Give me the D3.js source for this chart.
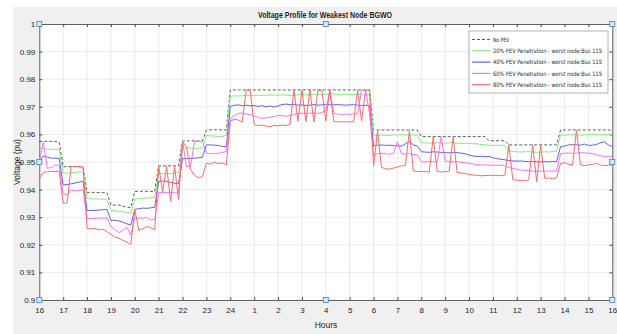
<!DOCTYPE html>
<html>
<head>
<meta charset="utf-8">
<script src="https://cdn.jsdelivr.net/npm/d3@7"></script>
<style>
  body { margin: 0; background: #fff; }
  text { font-family: "Liberation Sans", Arial, sans-serif; fill: #262626; }
</style>
</head>
<body>
<svg id="chart" width="617" height="334"></svg>
<script>
// hour tick labels (16:00 .. 16:00 next day)
var xTickLabels = ["16","17","18","19","20","21","22","23","24","1","2","3","4","5",
                   "6","7","8","9","10","11","12","13","14","15","16"];
var yTicks = [0.9, 0.91, 0.92, 0.93, 0.94, 0.95, 0.96, 0.97, 0.98, 0.99, 1];
var yTickLabels = ["0.9","0.91","0.92","0.93","0.94","0.95","0.96","0.97","0.98","0.99","1"];

var seriesNames = ["No PEV",
                   "20% PEV Penetration - worst node:Bus 115",
                   "40% PEV Penetration - worst node:Bus 115",
                   "60% PEV Penetration - worst node:Bus 115",
                   "80% PEV Penetration - worst node:Bus 115"];

// voltage in pu, one value every 10 minutes (6 per hour row)
var noPev = [
  0.9575,0.9575,0.9575,0.9575,0.9574,0.9572,
  0.9483,0.9483,0.9483,0.9483,0.9483,0.9482,
  0.9390,0.9390,0.9390,0.9389,0.9389,0.9388,
  0.9344,0.9344,0.9344,0.9340,0.9336,0.9335,
  0.9393,0.9394,0.9394,0.9394,0.9393,0.9393,
  0.9486,0.9486,0.9486,0.9486,0.9486,0.9486,
  0.9576,0.9576,0.9577,0.9577,0.9576,0.9576,
  0.9616,0.9616,0.9617,0.9617,0.9616,0.9616,
  0.9761,0.9761,0.9761,0.9761,0.9761,0.9761,
  0.9761,0.9761,0.9762,0.9761,0.9761,0.9761,
  0.9761,0.9761,0.9761,0.9761,0.9761,0.9761,
  0.9761,0.9762,0.9761,0.9761,0.9761,0.9761,
  0.9761,0.9761,0.9761,0.9761,0.9761,0.9761,
  0.9761,0.9761,0.9761,0.9761,0.9761,0.9761,
  0.9616,0.9616,0.9616,0.9616,0.9616,0.9616,
  0.9616,0.9616,0.9616,0.9616,0.9616,0.9616,
  0.9592,0.9592,0.9592,0.9592,0.9592,0.9592,
  0.9592,0.9592,0.9592,0.9592,0.9592,0.9592,
  0.9592,0.9592,0.9592,0.9592,0.9592,0.9577,
  0.9577,0.9577,0.9577,0.9577,0.9562,0.9562,
  0.9562,0.9562,0.9562,0.9562,0.9562,0.9562,
  0.9562,0.9562,0.9562,0.9562,0.9562,0.9616,
  0.9616,0.9616,0.9616,0.9616,0.9616,0.9616,
  0.9616,0.9616,0.9616,0.9616,0.9616,0.9616,
  0.9616
];

var pen20 = [
  0.9550,0.9549,0.9546,0.9546,0.9546,0.9545,
  0.9459,0.9460,0.9461,0.9462,0.9464,0.9465,
  0.9368,0.9366,0.9366,0.9366,0.9365,0.9364,
  0.9324,0.9323,0.9322,0.9320,0.9317,0.9315,
  0.9366,0.9367,0.9368,0.9369,0.9370,0.9372,
  0.9459,0.9458,0.9457,0.9458,0.9460,0.9462,
  0.9550,0.9551,0.9551,0.9550,0.9550,0.9550,
  0.9596,0.9595,0.9594,0.9592,0.9593,0.9596,
  0.9738,0.9740,0.9739,0.9740,0.9741,0.9740,
  0.9741,0.9742,0.9741,0.9742,0.9743,0.9742,
  0.9742,0.9743,0.9742,0.9741,0.9742,0.9743,
  0.9744,0.9743,0.9744,0.9745,0.9744,0.9744,
  0.9745,0.9747,0.9746,0.9744,0.9745,0.9746,
  0.9745,0.9744,0.9745,0.9744,0.9743,0.9742,
  0.9598,0.9596,0.9598,0.9597,0.9596,0.9598,
  0.9598,0.9599,0.9598,0.9597,0.9598,0.9597,
  0.9570,0.9569,0.9568,0.9569,0.9570,0.9569,
  0.9568,0.9569,0.9570,0.9568,0.9567,0.9568,
  0.9567,0.9566,0.9566,0.9563,0.9562,0.9561,
  0.9560,0.9560,0.9561,0.9559,0.9540,0.9538,
  0.9537,0.9536,0.9537,0.9538,0.9536,0.9535,
  0.9536,0.9537,0.9536,0.9538,0.9538,0.9598,
  0.9597,0.9598,0.9600,0.9599,0.9597,0.9598,
  0.9600,0.9601,0.9599,0.9598,0.9599,0.9600,
  0.9599
];

var pen40 = [
  0.9500,0.9522,0.9518,0.9514,0.9514,0.9513,
  0.9417,0.9418,0.9421,0.9424,0.9427,0.9430,
  0.9325,0.9324,0.9325,0.9326,0.9327,0.9328,
  0.9288,0.9289,0.9286,0.9282,0.9276,0.9272,
  0.9328,0.9331,0.9333,0.9332,0.9334,0.9336,
  0.9429,0.9431,0.9430,0.9426,0.9423,0.9422,
  0.9512,0.9513,0.9513,0.9514,0.9515,0.9517,
  0.9562,0.9562,0.9561,0.9560,0.9557,0.9555,
  0.9702,0.9705,0.9707,0.9704,0.9706,0.9703,
  0.9705,0.9701,0.9704,0.9700,0.9703,0.9699,
  0.9703,0.9708,0.9710,0.9707,0.9709,0.9706,
  0.9707,0.9705,0.9706,0.9708,0.9706,0.9707,
  0.9709,0.9708,0.9707,0.9708,0.9707,0.9706,
  0.9707,0.9708,0.9706,0.9705,0.9706,0.9704,
  0.9558,0.9561,0.9562,0.9560,0.9561,0.9559,
  0.9558,0.9557,0.9566,0.9573,0.9562,0.9558,
  0.9537,0.9536,0.9535,0.9537,0.9536,0.9535,
  0.9534,0.9533,0.9535,0.9534,0.9532,0.9530,
  0.9525,0.9522,0.9520,0.9521,0.9519,0.9520,
  0.9516,0.9512,0.9510,0.9508,0.9505,0.9504,
  0.9503,0.9504,0.9502,0.9501,0.9502,0.9501,
  0.9500,0.9501,0.9500,0.9502,0.9501,0.9556,
  0.9558,0.9562,0.9563,0.9562,0.9561,0.9565,
  0.9560,0.9561,0.9563,0.9570,0.9573,0.9562,
  0.9556
];

var pen60 = [
  0.9501,0.9572,0.9477,0.9480,0.9489,0.9487,
  0.9385,0.9380,0.9398,0.9395,0.9397,0.9399,
  0.9296,0.9294,0.9296,0.9297,0.9296,0.9298,
  0.9266,0.9255,0.9244,0.9252,0.9262,0.9237,
  0.9296,0.9298,0.9296,0.9299,0.9290,0.9292,
  0.9390,0.9389,0.9389,0.9390,0.9388,0.9389,
  0.9574,0.9483,0.9484,0.9574,0.9575,0.9574,
  0.9532,0.9531,0.9530,0.9532,0.9535,0.9537,
  0.9658,0.9668,0.9676,0.9677,0.9674,0.9671,
  0.9667,0.9661,0.9658,0.9660,0.9662,0.9665,
  0.9669,0.9668,0.9666,0.9669,0.9672,0.9676,
  0.9677,0.9676,0.9677,0.9678,0.9676,0.9680,
  0.9685,0.9760,0.9676,0.9674,0.9672,0.9674,
  0.9672,0.9675,0.9674,0.9760,0.9761,0.9675,
  0.9525,0.9530,0.9532,0.9530,0.9528,0.9531,
  0.9574,0.9530,0.9529,0.9530,0.9527,0.9526,
  0.9501,0.9500,0.9502,0.9501,0.9500,0.9591,
  0.9503,0.9502,0.9500,0.9501,0.9499,0.9497,
  0.9495,0.9493,0.9490,0.9489,0.9490,0.9488,
  0.9489,0.9487,0.9489,0.9486,0.9480,0.9476,
  0.9474,0.9471,0.9470,0.9469,0.9467,0.9466,
  0.9467,0.9468,0.9466,0.9468,0.9468,0.9530,
  0.9532,0.9533,0.9531,0.9532,0.9534,0.9533,
  0.9532,0.9531,0.9526,0.9523,0.9520,0.9521,
  0.9519
];

var pen80 = [
  0.9440,0.9462,0.9465,0.9466,0.9465,0.9466,
  0.9350,0.9352,0.9483,0.9484,0.9483,0.9482,
  0.9260,0.9257,0.9260,0.9254,0.9256,0.9248,
  0.9238,0.9228,0.9224,0.9216,0.9210,0.9201,
  0.9328,0.9252,0.9258,0.9266,0.9262,0.9254,
  0.9484,0.9392,0.9484,0.9358,0.9484,0.9362,
  0.9574,0.9555,0.9472,0.9452,0.9443,0.9447,
  0.9496,0.9492,0.9500,0.9494,0.9497,0.9489,
  0.9648,0.9655,0.9652,0.9645,0.9761,0.9759,
  0.9635,0.9632,0.9634,0.9630,0.9628,0.9633,
  0.9631,0.9634,0.9632,0.9636,0.9760,0.9648,
  0.9760,0.9646,0.9761,0.9645,0.9760,0.9760,
  0.9648,0.9761,0.9647,0.9645,0.9646,0.9645,
  0.9646,0.9645,0.9760,0.9648,0.9761,0.9760,
  0.9485,0.9612,0.9480,0.9476,0.9474,0.9478,
  0.9482,0.9486,0.9488,0.9612,0.9468,0.9466,
  0.9465,0.9466,0.9463,0.9591,0.9465,0.9464,
  0.9465,0.9466,0.9590,0.9462,0.9460,0.9458,
  0.9455,0.9453,0.9452,0.9450,0.9451,0.9452,
  0.9451,0.9452,0.9450,0.9452,0.9562,0.9436,
  0.9434,0.9433,0.9432,0.9435,0.9562,0.9428,
  0.9562,0.9441,0.9442,0.9440,0.9443,0.9495,
  0.9497,0.9492,0.9488,0.9615,0.9490,0.9487,
  0.9489,0.9491,0.9495,0.9489,0.9487,0.9488,
  0.9490
];

var seriesColors = ["#4a4a4a", "#7cf27c", "#5e5ef7", "#ff6dff", "#ff6868"];

var svg = d3.select("#chart");
var plot = { left: 39.3, right: 612.3, top: 24, bottom: 300 };

// matlab figure grey
svg.append("rect")
    .attr("x", 13).attr("y", 7)
    .attr("width", 604).attr("height", 327)
    .attr("fill", "#f0f0f0");

svg.append("rect")
    .attr("x", plot.left).attr("y", plot.top)
    .attr("width", plot.right - plot.left).attr("height", plot.bottom - plot.top)
    .attr("fill", "#fff");

var x = d3.scaleLinear().domain([0, 24]).range([plot.left, plot.right]);
var y = d3.scaleLinear().domain([0.9, 1]).range([plot.bottom, plot.top]);

// grid
svg.append("g").selectAll("line")
    .data(d3.range(1, 24))
    .enter().append("line")
    .attr("x1", function(d) { return x(d); })
    .attr("x2", function(d) { return x(d); })
    .attr("y1", plot.top).attr("y2", plot.bottom)
    .attr("stroke", "#e6e6e6").attr("stroke-width", 0.8);

svg.append("g").selectAll("line")
    .data(yTicks.slice(1, -1))
    .enter().append("line")
    .attr("y1", function(d) { return y(d); })
    .attr("y2", function(d) { return y(d); })
    .attr("x1", plot.left).attr("x2", plot.right)
    .attr("stroke", "#e6e6e6").attr("stroke-width", 0.8);

// axes, ticks pointing inward like matlab
svg.append("g")
    .attr("transform", "translate(0," + plot.bottom + ")")
    .call(d3.axisBottom(x).tickValues(d3.range(25))
        .tickFormat(function(i) { return xTickLabels[i]; })
        .tickSize(-3).tickSizeOuter(0).tickPadding(7));

svg.append("g")
    .attr("transform", "translate(0," + plot.top + ")")
    .call(d3.axisTop(x).tickValues(d3.range(25)).tickFormat("")
        .tickSize(-3).tickSizeOuter(0));

svg.append("g")
    .attr("transform", "translate(" + plot.left + ",0)")
    .call(d3.axisLeft(y).tickValues(yTicks)
        .tickFormat(function(d, i) { return yTickLabels[i]; })
        .tickSize(-3).tickSizeOuter(0).tickPadding(4));

svg.append("g")
    .attr("transform", "translate(" + plot.right + ",0)")
    .call(d3.axisRight(y).tickValues(yTicks).tickFormat("")
        .tickSize(-3).tickSizeOuter(0));

svg.selectAll(".domain").attr("stroke", "#4d4d4d").attr("stroke-width", 0.9);
svg.selectAll(".tick line").attr("stroke", "#4d4d4d");
svg.selectAll(".tick text").attr("font-size", 8).attr("fill", "#262626")
    .style("font-family", "'Liberation Sans', Arial, sans-serif");

// lines
var allSeries = [noPev, pen20, pen40, pen60, pen80];
var line = d3.line()
    .x(function(d, i) { return x(i / 6); })
    .y(function(d) { return y(d); });

svg.append("g").selectAll("path")
    .data(allSeries)
    .enter().append("path")
    .attr("d", line)
    .attr("fill", "none")
    .attr("stroke", function(d, i) { return seriesColors[i]; })
    .attr("stroke-width", function(d, i) { return i == 0 ? 0.9 : 1; })
    .attr("stroke-dasharray", function(d, i) { return i == 0 ? "3,2" : null; });

// edit handles on the axes box
var handles = [[0, 1], [12, 1], [24, 1], [0, 0.95], [24, 0.95], [0, 0.9], [12, 0.9], [24, 0.9]];
svg.append("g").selectAll("rect")
    .data(handles)
    .enter().append("rect")
    .attr("x", function(d) { return x(d[0]) - 2.5; })
    .attr("y", function(d) { return y(d[1]) - 2.5; })
    .attr("width", 5).attr("height", 5)
    .attr("fill", "#d9e8f6").attr("stroke", "#3d86c6").attr("stroke-width", 0.8);

// title and labels
svg.append("text")
    .attr("x", 325).attr("y", 18)
    .attr("text-anchor", "middle")
    .attr("font-size", 8.5).attr("font-weight", "bold")
    .attr("textLength", 134).attr("lengthAdjust", "spacingAndGlyphs")
    .text("Voltage Profile for Weakest Node BGWO");

svg.append("text")
    .attr("x", 326).attr("y", 328)
    .attr("text-anchor", "middle")
    .attr("font-size", 8.5)
    .text("Hours");

svg.append("text")
    .attr("transform", "translate(20,162) rotate(-90)")
    .attr("text-anchor", "middle")
    .attr("font-size", 8.5)
    .text("Voltage (pu)");

// legend
var legend = svg.append("g").attr("transform", "translate(469,31)");
legend.append("rect")
    .attr("width", 139).attr("height", 62)
    .attr("fill", "#fff").attr("stroke", "#a0a0a0").attr("stroke-width", 0.8);

var entry = legend.selectAll("g")
    .data(seriesNames)
    .enter().append("g")
    .attr("transform", function(d, i) { return "translate(0," + (8.5 + i * 11.3) + ")"; });

entry.append("line")
    .attr("x1", 3).attr("x2", 21.5)
    .attr("stroke", function(d, i) { return seriesColors[i]; })
    .attr("stroke-width", function(d, i) { return i == 0 ? 0.9 : 1.2; })
    .attr("stroke-dasharray", function(d, i) { return i == 0 ? "3,2" : null; });

entry.append("text")
    .attr("x", 24).attr("dy", "0.35em")
    .attr("font-size", 6)
    .style("font-family", "'Liberation Sans Narrow', 'DejaVu Sans Condensed', 'Liberation Sans', sans-serif")
    .attr("textLength", function(d, i) { return i == 0 ? 16 : 109; })
    .attr("lengthAdjust", "spacingAndGlyphs")
    .text(function(d) { return d; });
</script>
</body>
</html>
